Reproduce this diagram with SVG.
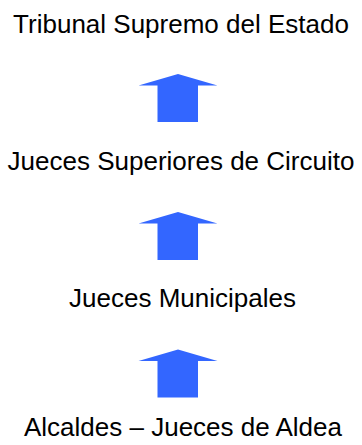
<svg xmlns="http://www.w3.org/2000/svg" width="362" height="445" viewBox="0 0 362 445">
<style>
text{font-family:"Liberation Sans",Arial,sans-serif;font-size:26px;fill:#000;text-anchor:middle}
.arrow{fill:#3366ff}
</style>
<rect width="362" height="445" fill="#fff"/>
<g id="n1"><text x="181" y="33">Tribunal Supremo del Estado</text></g>
<g id="n2"><text x="181" y="170">Jueces Superiores de Circuito</text></g>
<g id="n3"><text x="182.5" y="307">Jueces Municipales</text></g>
<g id="n4"><text x="183" y="436">Alcaldes – Jueces de Aldea</text></g>
<g id="connectors">
<polygon class="arrow" points="178,74 217.5,85.5 198,85.5 198,122 157.5,122 157.5,85.5 138.5,85.5"/>
<polygon class="arrow" points="178,212 217.5,223.5 198,223.5 198,260 157.5,260 157.5,223.5 138.5,223.5"/>
<polygon class="arrow" points="178,349.5 217.5,361 198,361 198,397.5 157.5,397.5 157.5,361 138.5,361"/>
</g>
</svg>
